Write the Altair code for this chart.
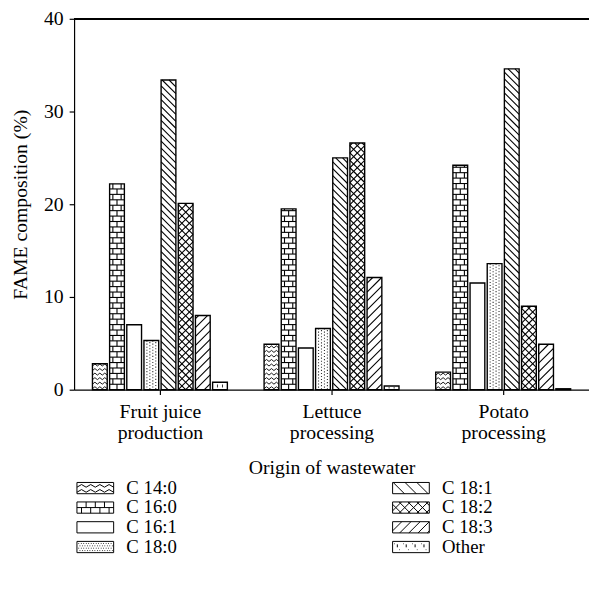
import json
import math
import altair as alt
import pandas as pd

# ---------------- data ----------------
groups = ["Fruit juice production", "Lettuce processing", "Potato processing"]
group_label_lines = [["Fruit juice", "production"], ["Lettuce", "processing"], ["Potato", "processing"]]
series = ["C 14:0", "C 16:0", "C 16:1", "C 18:0", "C 18:1", "C 18:2", "C 18:3", "Other"]
fruit_juice = [2.8, 22.2, 7.0, 5.3, 33.4, 20.1, 8.0, 0.8]
lettuce = [4.9, 19.5, 4.5, 6.6, 25.0, 26.6, 12.1, 0.4]
potato = [1.9, 24.2, 11.5, 13.6, 34.6, 9.0, 4.9, 0.1]
y_ticks = [0, 10, 20, 30, 40]

rows = []
for gi, (g, vals) in enumerate(zip(groups, [fruit_juice, lettuce, potato])):
    for si, (s, v) in enumerate(zip(series, vals)):
        rows.append({"group": g, "gi": gi, "series": s, "si": si, "value": v})
df = pd.DataFrame(rows)

# ---------------- layout constants ----------------
W, H = 522, 376
XMAX, YMAX = 30, 40
PX_X, PX_Y = W / XMAX, H / YMAX
BW = 0.86  # bar width in x units
HY = BW * PX_X / PX_Y  # 45 degree rise across a bar, in y units
FONT = "Liberation Serif"
FS = 20
LW = 1.1  # hatch line width

xscale = alt.Scale(domain=[0, XMAX], nice=False, zero=False)
yscale = alt.Scale(domain=[0, YMAX], nice=False)

centers = [g * 10 + 5 for g in range(len(groups))]
label_expr = ""
for c, lines in zip(centers[:-1], group_label_lines[:-1]):
    label_expr += f"datum.value == {c} ? {json.dumps(lines)} : "
label_expr += json.dumps(group_label_lines[-1])

xaxis = alt.Axis(values=centers, labelExpr=label_expr, title="Origin of wastewater",
                 grid=False, tickSize=5, labelPadding=7, labelLineHeight=22,
                 titlePadding=15)
yaxis = alt.Axis(values=y_ticks, title="FAME composition (%)", grid=False,
                 tickSize=5, labelPadding=6, titlePadding=13)


def X(f):
    return alt.X(f, type="quantitative", scale=xscale, axis=xaxis)


def Y(f):
    return alt.Y(f, type="quantitative", scale=yscale, axis=yaxis)


pos = dict(
    xc="datum.gi * 10 + 5 + datum.si - 3.5",
)
pos2 = dict(
    xl=f"datum.xc - {BW / 2}",
    xr=f"datum.xc + {BW / 2}",
    zero="0",
)


def base(name=None):
    c = alt.Chart(df)
    if name is not None:
        c = c.transform_filter(alt.datum.series == name)
    return c.transform_calculate(**pos).transform_calculate(**pos2)


bars_fill = base().mark_rect(fill="white", strokeWidth=0).encode(
    x=X("xl"), x2="xr", y=Y("value"), y2="zero")

bars_outline = base().mark_rect(fill="white", fillOpacity=0, stroke="black", strokeWidth=1.4).encode(
    x=X("xl"), x2="xr", y=Y("value"), y2="zero")

# top frame line of the plot area
top_line = alt.Chart(df).mark_rule(color="black", strokeWidth=1.2).encode(
    y=alt.Y(datum=YMAX, type="quantitative", scale=yscale, axis=yaxis))


def diag(name, d, spacing_px):
    S = spacing_px / PX_Y
    if d > 0:
        seq = f"sequence(-{math.ceil(HY / S)} * {S}, datum.value, {S})"
    else:
        seq = f"sequence({S}, datum.value + {HY}, {S})"
    dh = d * HY
    return (base(name)
            .transform_calculate(cs=seq)
            .transform_flatten(["cs"])
            .transform_calculate(ta=f"(0 - datum.cs) / ({dh})",
                                 tb=f"(datum.value - datum.cs) / ({dh})")
            .transform_calculate(tlo="max(0, min(datum.ta, datum.tb))",
                                 thi="min(1, max(datum.ta, datum.tb))")
            .transform_filter("datum.thi > datum.tlo + 0.02")
            .transform_calculate(hx1="datum.xl + (datum.xr - datum.xl) * datum.tlo",
                                 hx2="datum.xl + (datum.xr - datum.xl) * datum.thi",
                                 hy1=f"datum.cs + ({dh}) * datum.tlo",
                                 hy2=f"datum.cs + ({dh}) * datum.thi")
            .mark_rule(color="black", strokeWidth=LW)
            .encode(x=X("hx1"), x2="hx2", y=Y("hy1"), y2="hy2"))


# brick pattern (C 16:0)
SB = 5.5 / PX_Y
brick_rows = (base("C 16:0")
              .transform_calculate(lo=f"sequence(0, datum.value, {SB})")
              .transform_flatten(["lo"])
              .transform_calculate(k=f"round(datum.lo / {SB})",
                                   hi=f"min(datum.lo + {SB}, datum.value)"))
brick_h = brick_rows.transform_filter("datum.lo > 0").mark_rule(color="black", strokeWidth=LW).encode(
    x=X("xl"), x2="xr", y=Y("lo"))
brick_v = (brick_rows
           .transform_calculate(j="datum.k % 2 == 0 ? [0.5] : [0.22, 0.78]")
           .transform_flatten(["j"])
           .transform_filter("datum.hi - datum.lo > 0.05")
           .transform_calculate(jx="datum.xl + (datum.xr - datum.xl) * datum.j")
           .mark_rule(color="black", strokeWidth=LW)
           .encode(x=X("jx"), y=Y("lo"), y2="hi"))

# wavy pattern (C 14:0)
SW = 4.6 / PX_Y
AW = 2.0 / PX_Y
wavy = (base("C 14:0")
        .transform_calculate(b=f"sequence({1.0 / PX_Y}, datum.value - {AW}, {SW})")
        .transform_flatten(["b"])
        .transform_calculate(m="[0, 1, 2, 3, 4, 5]")
        .transform_flatten(["m"])
        .transform_calculate(jj="floor(datum.m / 2)", p="datum.m % 2")
        .transform_calculate(
            wx1="datum.xl + (datum.xr - datum.xl) * (datum.jj + 0.5 * datum.p) / 3",
            wx2="datum.xl + (datum.xr - datum.xl) * (datum.jj + 0.5 * (datum.p + 1)) / 3",
            wy1=f"datum.b + datum.p * {AW}",
            wy2=f"datum.b + (1 - datum.p) * {AW}")
        .mark_rule(color="black", strokeWidth=0.9)
        .encode(x=X("wx1"), x2="wx2", y=Y("wy1"), y2="wy2"))


# dotted pattern (C 18:0)
def dots(fracs, offset):
    return (base("C 18:0")
            .transform_calculate(f=json.dumps(fracs))
            .transform_flatten(["f"])
            .transform_calculate(dx="datum.xl + (datum.xr - datum.xl) * datum.f")
            .mark_rule(color="#333333", strokeWidth=1.1, strokeDash=[1.1, 2.0], strokeDashOffset=offset)
            .encode(x=X("dx"), y=Y("value"), y2="zero"))


# small ticks (Other)
other = (base("Other")
         .transform_filter("datum.value > 0.3")
         .transform_calculate(f="[0.33, 0.67]")
         .transform_flatten(["f"])
         .transform_calculate(dx="datum.xl + (datum.xr - datum.xl) * datum.f",
                              t1="datum.value * 0.3", t2="datum.value * 0.7")
         .mark_rule(color="black", strokeWidth=0.8)
         .encode(x=X("dx"), y=Y("t1"), y2="t2"))

# ---------------- legend symbols (custom SVG paths) ----------------
HW, HH = 3.1, 0.95
RECT = f"M{-HW},{-HH}H{HW}V{HH}H{-HW}Z"


def diag_paths(m, spacing):
    out = ""
    c = -HW - HH
    while c <= HW + HH:
        xa, xb = max(-HW, c - HH), min(HW, c + HH)
        if xb - xa > 0.05:
            if m > 0:
                out += f"M{xa:.3f},{xa - c:.3f}L{xb:.3f},{xb - c:.3f}"
            else:
                out += f"M{xa:.3f},{c - xa:.3f}L{xb:.3f},{c - xb:.3f}"
        c += spacing
    return out


def wavy_path():
    out = ""
    per = 2 * HW / 4
    for yb in (-0.15, 0.7):
        out += f"M{-HW},{yb}"
        for i in range(4):
            x0 = -HW + i * per
            out += f"L{x0 + per / 2:.3f},{yb - 0.45:.3f}L{x0 + per:.3f},{yb}"
    return out


def brick_path():
    out = f"M{-HW},0H{HW}"
    for x in (-1.55, 0, 1.55):
        out += f"M{x},{-HH}V0"
    for x in (-2.33, -0.78, 0.78, 2.33):
        out += f"M{x},0V{HH}"
    return out


def dots_path():
    out = ""
    for r, y in enumerate((-0.6, -0.2, 0.2, 0.6)):
        x = -2.85 + (0.2 if r % 2 else 0)
        while x < HW - 0.2:
            out += f"M{x:.2f},{y}h0.12"
            x += 0.42
    return out


def other_path():
    out = ""
    for x in (-2.3, -0.8, 0.7, 2.2):
        out += f"M{x},{-0.45}V0.05"
        out += f"M{x - 0.5},{-0.55}h0.1"
        out += f"M{x + 0.3},{0.45}h0.1"
    return out


legend_paths = {
    "C 14:0": RECT + wavy_path(),
    "C 16:0": RECT + brick_path(),
    "C 16:1": RECT,
    "C 18:0": RECT + dots_path(),
    "C 18:1": RECT + diag_paths(1, 2.0),
    "C 18:2": RECT + diag_paths(1, 1.5) + diag_paths(-1, 1.5),
    "C 18:3": RECT + diag_paths(-1, 1.55),
    "Other": RECT + other_path(),
}

legend_layer = (alt.Chart(df).transform_filter("false")
                .mark_point(filled=False, color="black", strokeWidth=1, opacity=1)
                .encode(shape=alt.Shape("series:N",
                                        scale=alt.Scale(domain=series,
                                                        range=[legend_paths[s] for s in series]),
                                        legend=alt.Legend(orient="none", legendX=12, legendY=466,
                                                          columns=2, columnPadding=215, rowPadding=-0.5,
                                                          labelOffset=22, labelFont=FONT, labelFontSize=19,
                                                          labelColor="black", title=None,
                                                          symbolSize=144, symbolStrokeWidth=1,
                                                          symbolStrokeColor="black",
                                                          symbolOpacity=1, padding=0))))

chart = alt.layer(
    bars_fill, wavy, brick_h, brick_v, dots([0.2, 0.6], 0), dots([0.4, 0.8], 1.5),
    diag("C 18:1", -1, 7.0), diag("C 18:2", 1, 7.5), diag("C 18:2", -1, 7.5),
    diag("C 18:3", 1, 9.0), other, bars_outline, top_line, legend_layer
).properties(
    width=W, height=H,
    autosize=alt.AutoSizeParams(type="none"),
    padding={"left": 67, "top": 7, "right": 0, "bottom": 190}
).configure_view(stroke=None).configure_axis(
    labelFont=FONT, titleFont=FONT, labelFontSize=FS, titleFontSize=FS,
    titleFontWeight="normal", labelColor="black", titleColor="black",
    domainColor="black", tickColor="black", domainWidth=1.2, tickWidth=1.2
)

chart.save("out.html", embed_options={"renderer": "svg", "actions": False})
